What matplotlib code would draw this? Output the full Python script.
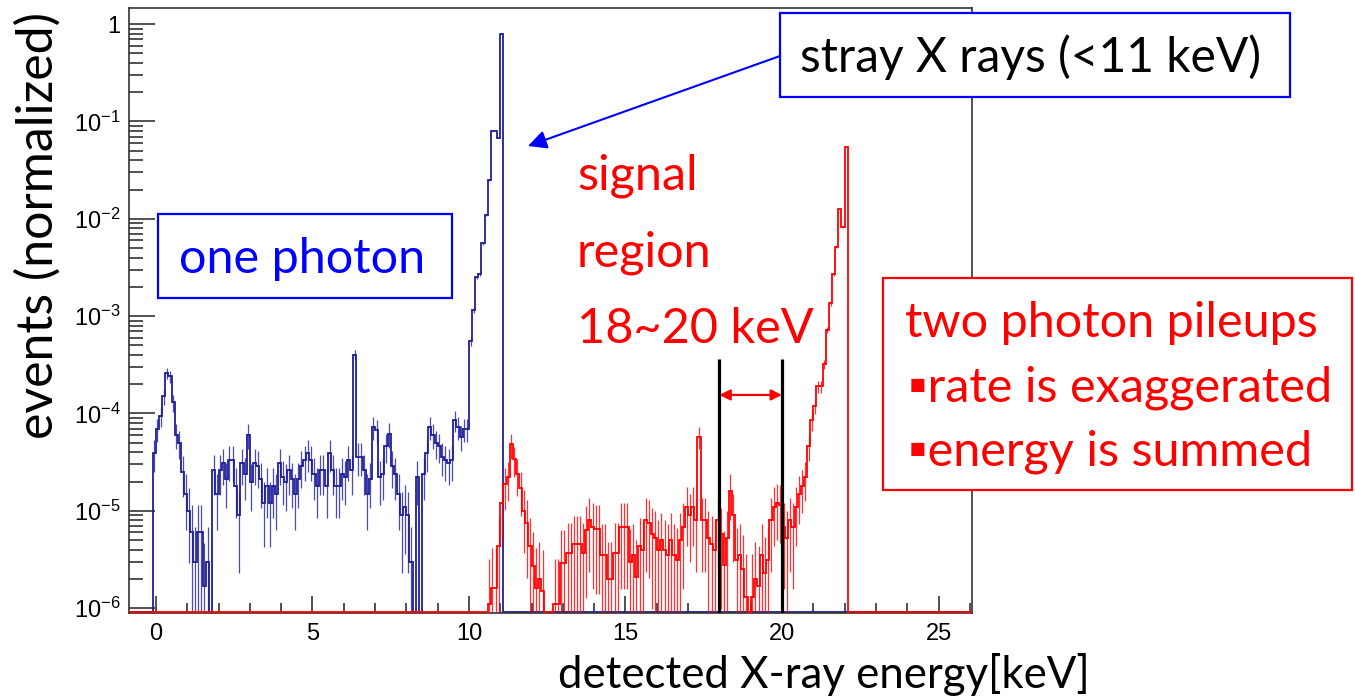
import numpy as np
import matplotlib.pyplot as plt
from matplotlib.patches import Rectangle, FancyArrowPatch

W, H = 1355, 699
BIN = 0.1  # keV

# one photon spectrum, 0.1 keV bins starting at -0.1 keV
blue_start = -0.1
blue_counts = [
    3.9e-5,                                                                  # -0.1
    7e-5, 9.5e-5, 1.5e-4, 2.6e-4, 2.4e-4, 1.3e-4, 6e-5, 5e-5, 2.5e-5, 1.5e-5,  # 0.0 - 0.9
    1.0e-5, 6e-6, 3e-6, 6e-6, 6e-6, 1.7e-6, 3e-6, 0, 2.6e-5, 1.5e-5,          # 1.0 - 1.9
    2.6e-5, 3.1e-5, 2.1e-5, 3.3e-5, 3.3e-5, 1.8e-5, 9e-6, 3.1e-5, 2.4e-5, 6e-5,  # 2.0 - 2.9
    2e-5, 3.1e-5, 2.9e-5, 2.1e-5, 1.2e-5, 1.8e-5, 1.2e-5, 1.8e-5, 1.5e-5, 3.1e-5,  # 3.0 - 3.9
    2.2e-5, 2e-5, 2.6e-5, 2.1e-5, 1.5e-5, 2.1e-5, 2.9e-5, 3.3e-5, 3.9e-5, 3.3e-5,  # 4.0 - 4.9
    2.4e-5, 1.8e-5, 2.6e-5, 2.6e-5, 1.8e-5, 3.9e-5, 2.6e-5, 1.8e-5, 1.8e-5, 2.4e-5,  # 5.0 - 5.9
    2.2e-5, 3.3e-5, 2.6e-5, 4e-4, 3.6e-5, 3.6e-5, 2.6e-5, 1.5e-5, 2.1e-5, 7.2e-5,  # 6.0 - 6.9
    6.8e-5, 2.2e-5, 2.4e-5, 4.6e-5, 6.2e-5, 2.9e-5, 2.4e-5, 1.5e-5, 9e-6, 1.1e-5,  # 7.0 - 7.9
    9e-6, 3e-6, 0, 2.2e-5, 0, 2.4e-5, 3.9e-5, 7.2e-5, 6e-5, 5e-5,                # 8.0 - 8.9
    4.6e-5, 3.6e-5, 3.3e-5, 3.1e-5, 3.3e-5, 8.5e-5, 7.2e-5, 5.8e-5, 7e-5, 7e-5,  # 9.0 - 9.9
    5.5e-4, 1.15e-3, 2.5e-3, 2.7e-3, 5.6e-3, 1.1e-2, 2.5e-2, 8e-2, 8e-2, 6.8e-2,  # 10.0 - 10.9
    0.79,                                                                    # 11.0
]

# two photon pileup spectrum, 0.1 keV bins starting at 10.6 keV
red_start = 10.6
red_counts = [
    1.1e-6, 1.6e-6, 1.6e-6, 4.3e-6,                                          # 10.6 - 10.9
    1.2e-5, 1.9e-5, 2.2e-5, 4.8e-5, 3.4e-5, 2.4e-5, 1.7e-5, 1e-5, 7.5e-6, 4.3e-6,  # 11.x
    2.7e-6, 1.6e-6, 2e-6, 1.5e-6, 0, 0, 0, 1.1e-6, 1.1e-6, 2.9e-6,            # 12.x
    2.9e-6, 3.7e-6, 3.7e-6, 4.6e-6, 4.6e-6, 4.6e-6, 3.7e-6, 6.3e-6, 8e-6, 6.8e-6,  # 13.x
    6.5e-6, 6.5e-6, 3.5e-6, 3.5e-6, 2e-6, 2e-6, 3.7e-6, 3.7e-6, 6.8e-6, 6.8e-6,  # 14.x
    6.8e-6, 3e-6, 3.5e-6, 2.1e-6, 4.3e-6, 4e-6, 8e-6, 7.5e-6, 5.8e-6, 5.3e-6,  # 15.x
    4e-6, 5e-6, 4e-6, 3.5e-6, 5e-6, 3.5e-6, 3.1e-6, 5e-6, 6.8e-6, 1.1e-5,      # 16.x
    9e-6, 1.1e-5, 8e-6, 5.8e-5, 8e-6, 8e-6, 5.3e-6, 4.6e-6, 4e-6, 8e-6,        # 17.x
    5.8e-6, 2.8e-6, 5.3e-6, 1.6e-5, 9e-6, 3.1e-6, 3.5e-6, 2.5e-6, 1.3e-6, 0,   # 18.x
    1.3e-6, 2e-6, 1.7e-6, 3.5e-6, 2.3e-6, 3.1e-6, 8e-6, 1.1e-5, 1.2e-5, 1.15e-5,  # 19.x
    6.8e-6, 5.3e-6, 8e-6, 6.8e-6, 1.1e-5, 1.5e-5, 1.8e-5, 2.2e-5, 4.6e-5, 8.5e-5,  # 20.x
    1.2e-4, 1.9e-4, 1.9e-4, 3.2e-4, 7.2e-4, 1.35e-3, 2.7e-3, 5.1e-3, 1.26e-2, 8.3e-3,  # 21.x
    5.5e-2,                                                                  # 22.0
]

# weight of one entry, used for the poisson error bars
blue_unit = 5e-6
red_unit = 4e-6

signal_lo, signal_hi = 18, 20

x_major = [0, 5, 10, 15, 20, 25]
y_major = [1e-6, 1e-5, 1e-4, 1e-3, 1e-2, 1e-1, 1]
y_labels = [r"$\mathregular{10^{-6}}$", r"$\mathregular{10^{-5}}$", r"$\mathregular{10^{-4}}$",
            r"$\mathregular{10^{-3}}$", r"$\mathregular{10^{-2}}$", r"$\mathregular{10^{-1}}$", "1"]

x_range = (-0.86, 26.07)
y_range = (10 ** -6.05, 10 ** 0.166)

plt.rcParams["font.family"] = ["Liberation Sans", "DejaVu Sans"]
BIG = ["Lato", "DejaVu Sans"]
BLUE_LINE = "#1e1e9a"
RED = "#ff0000"


def fx(px):
    return px / W


def fy(py):
    return 1 - py / H


def full_hist(start, counts, edges):
    vals = np.zeros(len(edges) - 1)
    i0 = int(round((start - edges[0]) / BIN))
    vals[i0:i0 + len(counts)] = counts
    return vals


edges = np.round(np.arange(-1.0, 26.15, BIN), 2)
centers = edges[:-1] + BIN / 2
blue = full_hist(blue_start, blue_counts, edges)
red = full_hist(red_start, red_counts, edges)

fig = plt.figure(figsize=(W / 100, H / 100), dpi=100)
ax = fig.add_axes([fx(129), fy(613), fx(972) - fx(129), fy(8) - fy(613)])
ax.set_yscale("log")

floor = y_range[0] * 1.03
for vals, unit, col, z in [(blue, blue_unit, BLUE_LINE, 2), (red, red_unit, RED, 3)]:
    ax.stairs(np.clip(vals, floor, None), edges, baseline=None, color=col, lw=1.3, zorder=z)
    nz = vals > 0
    err = np.sqrt(vals[nz] * unit)
    lo = np.clip(vals[nz] - err, floor, None)
    hi = vals[nz] + err
    ax.vlines(centers[nz], lo, hi, color=col, lw=0.9, alpha=0.8, zorder=z)

# signal window
ax.vlines([signal_lo, signal_hi], y_range[0], 3.6e-4, color="black", lw=2.3, zorder=4)
ax.annotate("", xy=(signal_hi, 1.55e-4), xytext=(signal_lo, 1.55e-4),
            arrowprops=dict(arrowstyle="<|-|>", color=RED, lw=1.6, mutation_scale=16,
                            shrinkA=0, shrinkB=0), zorder=5)

ax.set_xlim(*x_range)
ax.set_ylim(*y_range)

# axes styling, ROOT look
ax.set_xticks(x_major)
ax.set_xticks(np.arange(0, 27, 1), minor=True)
ax.set_yticks(y_major)
ax.set_yticklabels(y_labels)
ax.set_yticks([m * 10.0 ** e for e in range(-6, 0) for m in range(2, 10)], minor=True)
ax.yaxis.set_minor_formatter(plt.NullFormatter())
ax.set_ylim(*y_range)
ax.tick_params(axis="both", which="both", direction="in", color="#222222", width=1.1,
               labelsize=17, top=False, right=False)
ax.tick_params(axis="y", which="major", length=19, pad=6)
ax.tick_params(axis="y", which="minor", length=10)
ax.tick_params(axis="x", which="major", length=12, pad=7)
ax.tick_params(axis="x", which="minor", length=7)
for s in ax.spines.values():
    s.set_color("#333333")
    s.set_linewidth(1.2)

# labels
fig.text(fx(38), fy(225), "events (normalized)", rotation=90, ha="center", va="center",
         fontsize=36, family=BIG, color="black")
fig.text(fx(558), fy(688), "detected X-ray energy[keV]", ha="left", va="baseline",
         fontsize=31.5, family=BIG, color="black")

# one photon box
fig.add_artist(Rectangle((fx(158), fy(298)), fx(452) - fx(158), fy(214) - fy(298),
                         transform=fig.transFigure, facecolor="white", edgecolor="#0000ff",
                         lw=1.6, zorder=6))
fig.text(fx(179), fy(273), "one photon", ha="left", va="baseline", fontsize=35,
         family=BIG, color="#0000ff", zorder=7)

# stray x rays box with arrow
fig.add_artist(Rectangle((fx(780), fy(97)), fx(1290) - fx(780), fy(13) - fy(97),
                         transform=fig.transFigure, facecolor="white", edgecolor="#0000ff",
                         lw=1.6, zorder=6))
fig.text(fx(800), fy(72), "stray X rays (<11 keV)", ha="left", va="baseline", fontsize=34.5,
         family=BIG, color="black", zorder=7)
fig.add_artist(FancyArrowPatch((fx(780), fy(56)), (fx(528), fy(146)),
                               transform=fig.transFigure, arrowstyle="-|>", color="#0000ff",
                               lw=1.5, mutation_scale=28, shrinkA=0, shrinkB=0, zorder=6))

# signal region text
for txt, base in [("signal", 190), ("region", 267), ("18~20 keV", 343)]:
    fig.text(fx(577), fy(base), txt, ha="left", va="baseline", fontsize=35,
             family=BIG, color=RED, zorder=7)

# pileup box
fig.add_artist(Rectangle((fx(883), fy(490)), fx(1352) - fx(883), fy(278) - fy(490),
                         transform=fig.transFigure, facecolor="white", edgecolor=RED,
                         lw=1.6, zorder=6))
for txt, x0, base in [("two photon pileups", 905, 337),
                      ("\u25aarate is exaggerated", 908, 402),
                      ("\u25aaenergy is summed", 908, 465)]:
    fig.text(fx(x0), fy(base), txt, ha="left", va="baseline", fontsize=35,
             family=BIG, color=RED, zorder=7)

fig.savefig("out.png", dpi=100)
